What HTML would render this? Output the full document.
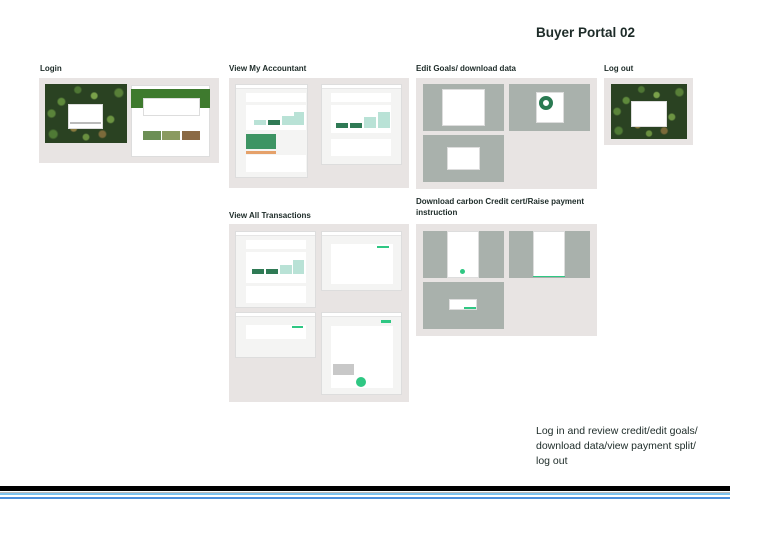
<!DOCTYPE html>
<html><head><meta charset="utf-8"><style>
*{margin:0;padding:0;box-sizing:border-box}
body{width:768px;height:543px;background:#fff;position:relative;overflow:hidden;font-family:"Liberation Sans",sans-serif;color:#1d2b28}
.a{position:absolute}
.lbl{position:absolute;font-weight:bold;font-size:8px;color:#1d2b28;line-height:11px}
.pan{position:absolute;background:#e8e4e3}
.scr{position:absolute;background:#f4f4f3;border:1px solid #ddd}
.scr .hd{position:absolute;left:0;right:0;top:0;height:4px;background:#fff;border-bottom:1px solid #e6e6e6}
.card{position:absolute;background:#fff}
.gr{position:absolute;background:#a9b1ac}
.forest{position:absolute;background:
radial-gradient(circle at 20% 30%,#5f8a3c 0 4%,transparent 6%),
radial-gradient(circle at 60% 20%,#7aa14a 0 4%,transparent 6%),
radial-gradient(circle at 80% 60%,#6c9442 0 4%,transparent 6%),
radial-gradient(circle at 35% 75%,#8a7a3e 0 4%,transparent 6%),
radial-gradient(circle at 10% 85%,#4f7a35 0 4%,transparent 6%),
radial-gradient(circle at 90% 15%,#587f38 0 4%,transparent 6%),
radial-gradient(circle at 50% 90%,#6a9040 0 4%,transparent 6%),
radial-gradient(circle at 40% 10%,#4e7634 0 4%,transparent 6%),
radial-gradient(circle at 70% 85%,#7b6a3a 0 4%,transparent 6%),
radial-gradient(circle at 8% 50%,#5a843a 0 4%,transparent 6%),
#2a4222}
.modal{position:absolute;background:#fff;border:1px solid #ddd}
.btn{position:absolute;background:#2fc783}
</style></head><body>
<div class="a" style="left:536px;top:25px;font-size:13.5px;font-weight:bold;color:#1d2b28">Buyer Portal 02</div>

<div class="lbl" style="left:40px;top:63px">Login</div>
<div class="pan" style="left:39px;top:78px;width:180px;height:85px"></div>
<div class="forest" style="left:45px;top:84px;width:82px;height:59px"></div>
<div class="modal" style="left:68px;top:104px;width:35px;height:25px"></div>
<div class="a" style="left:70px;top:122px;width:31px;height:2px;background:#bbb"></div>
<div class="scr" style="left:131px;top:85px;width:79px;height:72px;background:#fff"></div>
<div class="a" style="left:131px;top:89px;width:79px;height:19px;background:#3e7a2e"></div>
<div class="card" style="left:143px;top:98px;width:57px;height:18px;border:1px solid #ddd"></div>
<div class="a" style="left:143px;top:131px;width:18px;height:9px;background:#6c8f55"></div>
<div class="a" style="left:162px;top:131px;width:18px;height:9px;background:#8a9a60"></div>
<div class="a" style="left:182px;top:131px;width:18px;height:9px;background:#8b6a45"></div>

<div class="lbl" style="left:229px;top:63px">View My Accountant</div>
<div class="pan" style="left:229px;top:78px;width:180px;height:110px"></div>
<div class="scr" style="left:235px;top:84px;width:73px;height:94px"><div class="hd"></div></div>
<div class="card" style="left:246px;top:93px;width:60px;height:9px"></div>
<div class="card" style="left:246px;top:105px;width:60px;height:25px"></div>
<div class="a" style="left:254px;top:120px;width:12px;height:5px;background:#b9e2d6"></div>
<div class="a" style="left:268px;top:120px;width:12px;height:5px;background:#2f7a55"></div>
<div class="a" style="left:282px;top:116px;width:12px;height:9px;background:#b9e2d6"></div>
<div class="a" style="left:294px;top:112px;width:10px;height:13px;background:#b9e2d6"></div>
<div class="a" style="left:246px;top:134px;width:30px;height:15px;background:#3d9463"></div>
<div class="a" style="left:246px;top:151px;width:30px;height:3px;background:#e5a16a"></div>
<div class="card" style="left:246px;top:155px;width:60px;height:17px"></div>
<div class="scr" style="left:321px;top:84px;width:81px;height:81px"><div class="hd"></div></div>
<div class="card" style="left:331px;top:93px;width:60px;height:9px"></div>
<div class="card" style="left:331px;top:105px;width:60px;height:28px"></div>
<div class="a" style="left:336px;top:123px;width:12px;height:5px;background:#2f7a55"></div>
<div class="a" style="left:350px;top:123px;width:12px;height:5px;background:#2f7a55"></div>
<div class="a" style="left:364px;top:117px;width:12px;height:11px;background:#b9e2d6"></div>
<div class="a" style="left:378px;top:112px;width:12px;height:16px;background:#b9e2d6"></div>
<div class="card" style="left:331px;top:139px;width:60px;height:17px"></div>

<div class="lbl" style="left:416px;top:63px">Edit Goals/ download data</div>
<div class="pan" style="left:416px;top:78px;width:181px;height:111px"></div>
<div class="gr" style="left:423px;top:84px;width:81px;height:47px"></div>
<div class="modal" style="left:442px;top:89px;width:43px;height:37px"></div>
<div class="gr" style="left:509px;top:84px;width:81px;height:47px"></div>
<div class="modal" style="left:536px;top:92px;width:28px;height:31px"></div>
<div class="a" style="left:539px;top:96px;width:14px;height:14px;border-radius:50%;border:4px solid #2a7a52"></div>
<div class="gr" style="left:423px;top:135px;width:81px;height:47px"></div>
<div class="modal" style="left:447px;top:147px;width:33px;height:23px"></div>

<div class="lbl" style="left:604px;top:63px">Log out</div>
<div class="pan" style="left:604px;top:78px;width:89px;height:67px"></div>
<div class="forest" style="left:611px;top:84px;width:76px;height:55px"></div>
<div class="modal" style="left:631px;top:101px;width:36px;height:26px"></div>

<div class="lbl" style="left:229px;top:210px">View All Transactions</div>
<div class="pan" style="left:229px;top:224px;width:180px;height:178px"></div>
<div class="scr" style="left:235px;top:231px;width:81px;height:77px"><div class="hd"></div></div>
<div class="card" style="left:246px;top:240px;width:60px;height:9px"></div>
<div class="card" style="left:246px;top:252px;width:60px;height:31px"></div>
<div class="a" style="left:252px;top:269px;width:12px;height:5px;background:#2f7a55"></div>
<div class="a" style="left:266px;top:269px;width:12px;height:5px;background:#2f7a55"></div>
<div class="a" style="left:280px;top:265px;width:12px;height:9px;background:#b9e2d6"></div>
<div class="a" style="left:293px;top:260px;width:11px;height:14px;background:#b9e2d6"></div>
<div class="card" style="left:246px;top:286px;width:60px;height:17px"></div>
<div class="scr" style="left:321px;top:231px;width:81px;height:60px"><div class="hd"></div></div>
<div class="card" style="left:331px;top:244px;width:62px;height:40px"></div>
<div class="btn" style="left:377px;top:246px;width:12px;height:2px"></div>
<div class="scr" style="left:235px;top:312px;width:81px;height:46px"><div class="hd"></div></div>
<div class="card" style="left:246px;top:325px;width:60px;height:14px"></div>
<div class="btn" style="left:292px;top:326px;width:11px;height:2px"></div>
<div class="scr" style="left:321px;top:312px;width:81px;height:83px"><div class="hd"></div></div>
<div class="card" style="left:331px;top:326px;width:62px;height:62px"></div>
<div class="btn" style="left:381px;top:320px;width:10px;height:3px"></div>
<div class="a" style="left:333px;top:364px;width:21px;height:11px;background:#c8c8c8"></div>
<div class="a" style="left:356px;top:377px;width:10px;height:10px;border-radius:50%;background:#2fc783"></div>

<div class="lbl" style="left:416px;top:196px">Download carbon Credit cert/Raise payment<br>instruction</div>
<div class="pan" style="left:416px;top:224px;width:181px;height:112px"></div>
<div class="gr" style="left:423px;top:231px;width:81px;height:47px"></div>
<div class="modal" style="left:447px;top:231px;width:32px;height:47px"></div>
<div class="a" style="left:460px;top:269px;width:5px;height:5px;border-radius:50%;background:#2fc783"></div>
<div class="gr" style="left:509px;top:231px;width:81px;height:47px"></div>
<div class="modal" style="left:533px;top:231px;width:32px;height:46px"></div>
<div class="a" style="left:533px;top:276px;width:32px;height:1px;background:#2fc783"></div>
<div class="gr" style="left:423px;top:282px;width:81px;height:47px"></div>
<div class="modal" style="left:449px;top:299px;width:28px;height:11px"></div>
<div class="btn" style="left:464px;top:307px;width:12px;height:2px"></div>

<div class="a" style="left:536px;top:424px;font-size:10.5px;line-height:15px;color:#1d2b28">Log in and review credit/edit goals/<br>download data/view payment split/<br>log out</div>

<div class="a" style="left:0;top:486px;width:730px;height:5px;background:#000"></div>
<div class="a" style="left:0;top:492px;width:730px;height:1px;background:#bbb"></div>
<div class="a" style="left:0;top:493px;width:730px;height:2px;background:#7ec3ee"></div>
<div class="a" style="left:0;top:497px;width:730px;height:2px;background:#4a8fdc"></div>
</body></html>
